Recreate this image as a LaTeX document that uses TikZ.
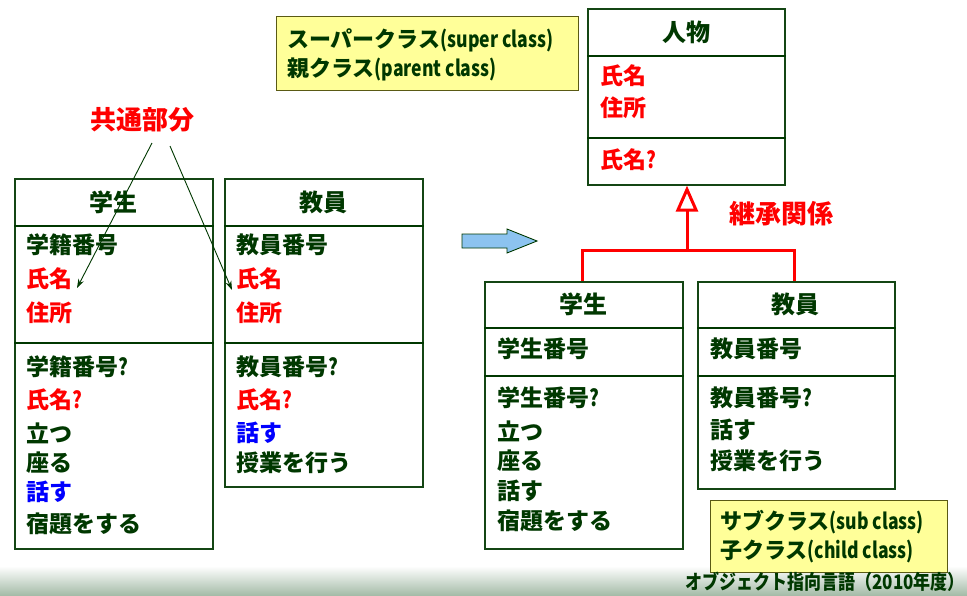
\documentclass[tikz,border=0pt]{standalone}
\usepackage{fontspec}
\setmainfont{Noto Sans CJK JP}
\usetikzlibrary{arrows.meta,calc}
\definecolor{dg}{RGB}{0,56,0}
\definecolor{bordergreen}{RGB}{20,70,20}
\definecolor{yel}{RGB}{255,255,153}
\definecolor{yelborder}{RGB}{90,90,20}
\definecolor{lblue}{RGB}{140,195,240}
\definecolor{rd}{RGB}{255,0,0}
\definecolor{bl}{RGB}{0,0,255}
\definecolor{footgreen}{RGB}{165,188,168}
\newcommand{\lat}[1]{\scalebox{0.8}[1]{#1}}
\begin{document}
\begin{tikzpicture}[x=1pt,y=-1pt,
  box/.style={draw=bordergreen, line width=1.6pt, fill=white, inner sep=0, anchor=north west},
  sepline/.style={draw=dg, line width=2pt},
  txt/.style={anchor=west, inner sep=0, font=\fontsize{23}{23}\selectfont\bfseries, text=dg},
  head/.style={inner sep=0, font=\fontsize{24}{24}\selectfont\bfseries, text=dg},
  redtxt/.style={txt, text=rd},
  bluetxt/.style={txt, text=bl},
  note/.style={draw=yelborder, line width=1.2pt, fill=yel, anchor=north west, inner sep=0},
  notetxt/.style={anchor=west, inner sep=0, font=\fontsize{22}{22}\selectfont\bfseries, text=dg},
  pointer/.style={draw=dg, line width=0.9pt, -{Stealth[length=9pt,width=6pt]}},
  inherit/.style={draw=rd, line width=3pt},
]
\useasboundingbox (0,0) rectangle (967,595);
% footer gradient
\shade[top color=white, bottom color=footgreen] (0,566) rectangle (967,595);

% ---------- left 学生 ----------
\node[box, minimum width=198pt, minimum height=370pt] (L1) at (14,178) {};
\draw[sepline] ($(L1.north west)+(0,48)$) -- ($(L1.north east)+(0,48)$);
\draw[sepline] ($(L1.north west)+(0,165)$) -- ($(L1.north east)+(0,165)$);
\node[head] (L1h) at (113,202) {学生};
\node[txt] (L1a) at (26,245) {学籍番号};
\node[redtxt] (L1b) at (26,279) {氏名};
\node[redtxt] (L1c) at (26,313) {住所};
\node[txt] (L1d) at (26,367) {学籍番号\lat{?}};
\node[redtxt] (L1e) at (26,400) {氏名\lat{?}};
\node[txt] (L1f) at (26,433) {立つ};
\node[txt] (L1g) at (26,463) {座る};
\node[bluetxt] (L1i) at (26,492) {話す};
\node[txt] (L1j) at (26,524) {宿題をする};

% ---------- left 教員 ----------
\node[box, minimum width=198pt, minimum height=308pt] (L2) at (224,178) {};
\draw[sepline] ($(L2.north west)+(0,48)$) -- ($(L2.north east)+(0,48)$);
\draw[sepline] ($(L2.north west)+(0,165)$) -- ($(L2.north east)+(0,165)$);
\node[head] (L2h) at (323,202) {教員};
\node[txt] (L2a) at (236,245) {教員番号};
\node[redtxt] (L2b) at (236,279) {氏名};
\node[redtxt] (L2c) at (236,313) {住所};
\node[txt] (L2d) at (236,367) {教員番号\lat{?}};
\node[redtxt] (L2e) at (236,400) {氏名\lat{?}};
\node[bluetxt] (L2f) at (236,433) {話す};
\node[txt] (L2g) at (236,463) {授業を行う};

% 共通部分
\node[inner sep=0, font=\fontsize{26}{26}\selectfont\bfseries, text=rd] (common) at (142,120) {共通部分};
\coordinate (c1) at (152,143);
\coordinate (c2) at (170,146);
\coordinate (e1) at (77,288);
\coordinate (e2) at (232,290);
\draw[pointer] (c1) -- (e1);
\draw[pointer] (c2) -- (e2);

% block arrow
\draw[draw=dg, line width=0.9pt, fill=lblue] (462,234) -- (507,234) -- (507,229) -- (537,241) -- (507,253) -- (507,248) -- (462,248) -- cycle;

% super class note
\node[note, minimum width=302pt, minimum height=74pt] (sup) at (276,16) {};
\node[notetxt] (sup1) at (287,40) {スーパークラス\lat{(super class)}};
\node[notetxt] (sup2) at (287,69) {親クラス\lat{(parent class)}};

% ---------- 人物 ----------
\node[box, minimum width=197pt, minimum height=176pt] (P) at (587,8) {};
\draw[sepline] ($(P.north west)+(0,48)$) -- ($(P.north east)+(0,48)$);
\draw[sepline] ($(P.north west)+(0,130)$) -- ($(P.north east)+(0,130)$);
\node[head] (Ph) at (686,32) {人物};
\node[redtxt] (Pa) at (600,76) {氏名};
\node[redtxt] (Pb) at (600,108) {住所};
\node[redtxt] (Pc) at (600,160) {氏名\lat{?}};

% ---------- right 学生 ----------
\node[box, minimum width=198pt, minimum height=267pt] (S) at (484,281) {};
\draw[sepline] ($(S.north west)+(0,47)$) -- ($(S.north east)+(0,47)$);
\draw[sepline] ($(S.north west)+(0,95)$) -- ($(S.north east)+(0,95)$);
\node[head] (Sh) at (583,304) {学生};
\node[txt] (Sa) at (497,349) {学生番号};
\node[txt] (Sb) at (497,398) {学生番号\lat{?}};
\node[txt] (Sc) at (497,431) {立つ};
\node[txt] (Sd) at (497,461) {座る};
\node[txt] (Se) at (497,491) {話す};
\node[txt] (Sf) at (497,521) {宿題をする};

% ---------- right 教員 ----------
\node[box, minimum width=197pt, minimum height=207pt] (T) at (697,281) {};
\draw[sepline] ($(T.north west)+(0,47)$) -- ($(T.north east)+(0,47)$);
\draw[sepline] ($(T.north west)+(0,95)$) -- ($(T.north east)+(0,95)$);
\node[head] (Th) at (795,304) {教員};
\node[txt] (Ta) at (710,349) {教員番号};
\node[txt] (Tb) at (710,398) {教員番号\lat{?}};
\node[txt] (Tc) at (710,430) {話す};
\node[txt] (Td) at (710,461) {授業を行う};

% inheritance
\coordinate (j) at (687,250);
\coordinate (sx) at (582,281);
\coordinate (tx) at (794,281);
\draw[inherit, line join=miter] (sx) |- (j) -| (tx);
\draw[inherit, -{Triangle[open, length=26pt, width=22pt, line width=3pt]}] (j) -- (P.south -| j);
\node[inner sep=0, font=\fontsize{26}{26}\selectfont\bfseries, text=rd] (inh) at (781,214) {継承関係};

% sub class note
\node[note, minimum width=237pt, minimum height=72pt] (sub) at (710,500) {};
\node[notetxt] (sub1) at (720,522) {サブクラス\lat{(sub class)}};
\node[notetxt] (sub2) at (720,551) {子クラス\lat{(child class)}};

% footer
\node[anchor=east, inner sep=0, font=\fontsize{20}{20}\selectfont\bfseries, text=dg] (foot) at (965,582) {\scalebox{0.85}[1]{オブジェクト指向言語（2010年度）}};
\end{tikzpicture}
\end{document}
